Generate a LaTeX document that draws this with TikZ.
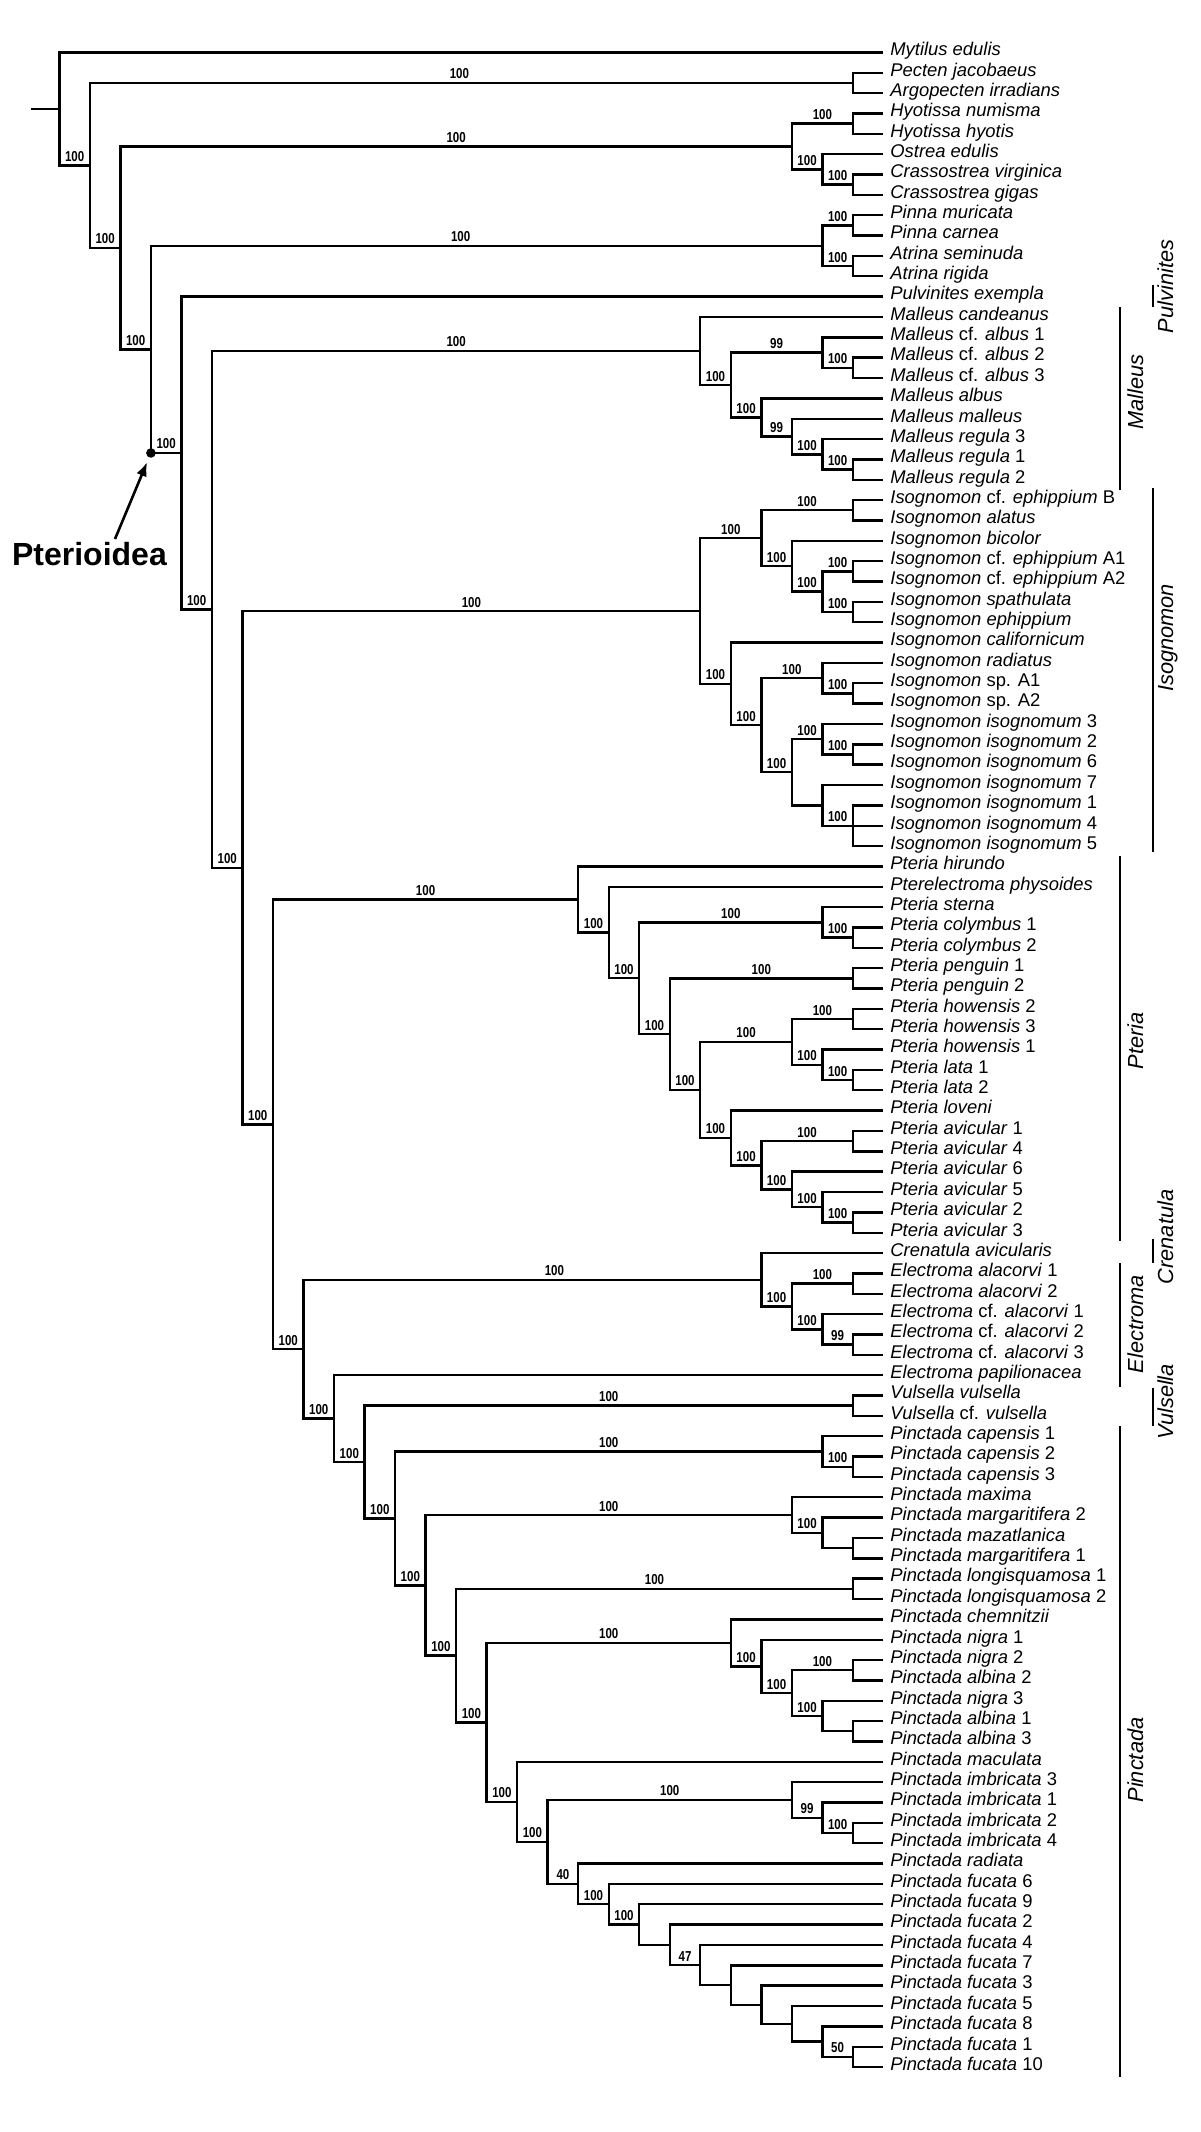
\documentclass[tikz,border=0pt]{standalone}
\usepackage{fontspec}
\setmainfont{Liberation Sans}
\newfontfamily\supfont[FakeStretch=0.8]{Liberation Sans}
\usetikzlibrary{calc,arrows.meta}
\tikzset{
 tree/.style={line width=1.2pt, line join=miter},
 leaflab/.style={anchor=base west, inner sep=0pt, font=\fontsize{9.2pt}{10pt}\selectfont},
 suplab/.style={anchor=base, inner sep=0pt, font=\supfont\bfseries\fontsize{7.2pt}{8pt}\selectfont},
 cladelab/.style={anchor=base, inner sep=0pt, rotate=90, font=\itshape\fontsize{10.9pt}{12pt}\selectfont},
 cladebar/.style={line width=1.3pt},
}
\newcommand{\lf}[2]{%
  \coordinate (L#1) at (441.7pt,{-26.2pt-(#1-1)*10.175pt});
  \node[leaflab] (T#1) at (445pt,{-27.85pt-(#1-1)*10.175pt}) {#2};}
\newcommand{\br}[4]{%
  \coordinate (tmpa) at ($(#3)!0.5!(#4)$);
  \coordinate (tmpb) at ({441.7pt-#2*15.26pt},0pt);
  \coordinate (#1) at (tmpb |- tmpa);
  \draw[tree] (#3) -| (#1) |- (#4);}
\newcommand{\bs}[4][0pt]{\node[suplab, xshift=#1, yshift=2pt] (s#3) at ($(#2 |- #3)!0.5!(#3)$) {#4};}
\begin{document}
\begin{tikzpicture}
\fill[white] (0pt,0pt) rectangle (600pt,-1066pt);
\useasboundingbox (0pt,0pt) rectangle (600pt,-1066pt);
% leaves
\lf{1}{\textit{Mytilus edulis}}
\lf{2}{\textit{Pecten jacobaeus}}
\lf{3}{\textit{Argopecten irradians}}
\lf{4}{\textit{Hyotissa numisma}}
\lf{5}{\textit{Hyotissa hyotis}}
\lf{6}{\textit{Ostrea edulis}}
\lf{7}{\textit{Crassostrea virginica}}
\lf{8}{\textit{Crassostrea gigas}}
\lf{9}{\textit{Pinna muricata}}
\lf{10}{\textit{Pinna carnea}}
\lf{11}{\textit{Atrina seminuda}}
\lf{12}{\textit{Atrina rigida}}
\lf{13}{\textit{Pulvinites exempla}}
\lf{14}{\textit{Malleus candeanus}}
\lf{15}{\textit{Malleus} cf. \textit{albus} 1}
\lf{16}{\textit{Malleus} cf. \textit{albus} 2}
\lf{17}{\textit{Malleus} cf. \textit{albus} 3}
\lf{18}{\textit{Malleus albus}}
\lf{19}{\textit{Malleus malleus}}
\lf{20}{\textit{Malleus regula} 3}
\lf{21}{\textit{Malleus regula} 1}
\lf{22}{\textit{Malleus regula} 2}
\lf{23}{\textit{Isognomon} cf. \textit{ephippium} B}
\lf{24}{\textit{Isognomon alatus}}
\lf{25}{\textit{Isognomon bicolor}}
\lf{26}{\textit{Isognomon} cf. \textit{ephippium} A1}
\lf{27}{\textit{Isognomon} cf. \textit{ephippium} A2}
\lf{28}{\textit{Isognomon spathulata}}
\lf{29}{\textit{Isognomon ephippium}}
\lf{30}{\textit{Isognomon californicum}}
\lf{31}{\textit{Isognomon radiatus}}
\lf{32}{\textit{Isognomon} sp. A1}
\lf{33}{\textit{Isognomon} sp. A2}
\lf{34}{\textit{Isognomon isognomum} 3}
\lf{35}{\textit{Isognomon isognomum} 2}
\lf{36}{\textit{Isognomon isognomum} 6}
\lf{37}{\textit{Isognomon isognomum} 7}
\lf{38}{\textit{Isognomon isognomum} 1}
\lf{39}{\textit{Isognomon isognomum} 4}
\lf{40}{\textit{Isognomon isognomum} 5}
\lf{41}{\textit{Pteria hirundo}}
\lf{42}{\textit{Pterelectroma physoides}}
\lf{43}{\textit{Pteria sterna}}
\lf{44}{\textit{Pteria colymbus} 1}
\lf{45}{\textit{Pteria colymbus} 2}
\lf{46}{\textit{Pteria penguin} 1}
\lf{47}{\textit{Pteria penguin} 2}
\lf{48}{\textit{Pteria howensis} 2}
\lf{49}{\textit{Pteria howensis} 3}
\lf{50}{\textit{Pteria howensis} 1}
\lf{51}{\textit{Pteria lata} 1}
\lf{52}{\textit{Pteria lata} 2}
\lf{53}{\textit{Pteria loveni}}
\lf{54}{\textit{Pteria avicular} 1}
\lf{55}{\textit{Pteria avicular} 4}
\lf{56}{\textit{Pteria avicular} 6}
\lf{57}{\textit{Pteria avicular} 5}
\lf{58}{\textit{Pteria avicular} 2}
\lf{59}{\textit{Pteria avicular} 3}
\lf{60}{\textit{Crenatula avicularis}}
\lf{61}{\textit{Electroma alacorvi} 1}
\lf{62}{\textit{Electroma alacorvi} 2}
\lf{63}{\textit{Electroma} cf. \textit{alacorvi} 1}
\lf{64}{\textit{Electroma} cf. \textit{alacorvi} 2}
\lf{65}{\textit{Electroma} cf. \textit{alacorvi} 3}
\lf{66}{\textit{Electroma papilionacea}}
\lf{67}{\textit{Vulsella vulsella}}
\lf{68}{\textit{Vulsella} cf. \textit{vulsella}}
\lf{69}{\textit{Pinctada capensis} 1}
\lf{70}{\textit{Pinctada capensis} 2}
\lf{71}{\textit{Pinctada capensis} 3}
\lf{72}{\textit{Pinctada maxima}}
\lf{73}{\textit{Pinctada margaritifera} 2}
\lf{74}{\textit{Pinctada mazatlanica}}
\lf{75}{\textit{Pinctada margaritifera} 1}
\lf{76}{\textit{Pinctada longisquamosa} 1}
\lf{77}{\textit{Pinctada longisquamosa} 2}
\lf{78}{\textit{Pinctada chemnitzii}}
\lf{79}{\textit{Pinctada nigra} 1}
\lf{80}{\textit{Pinctada nigra} 2}
\lf{81}{\textit{Pinctada albina} 2}
\lf{82}{\textit{Pinctada nigra} 3}
\lf{83}{\textit{Pinctada albina} 1}
\lf{84}{\textit{Pinctada albina} 3}
\lf{85}{\textit{Pinctada maculata}}
\lf{86}{\textit{Pinctada imbricata} 3}
\lf{87}{\textit{Pinctada imbricata} 1}
\lf{88}{\textit{Pinctada imbricata} 2}
\lf{89}{\textit{Pinctada imbricata} 4}
\lf{90}{\textit{Pinctada radiata}}
\lf{91}{\textit{Pinctada fucata} 6}
\lf{92}{\textit{Pinctada fucata} 9}
\lf{93}{\textit{Pinctada fucata} 2}
\lf{94}{\textit{Pinctada fucata} 4}
\lf{95}{\textit{Pinctada fucata} 7}
\lf{96}{\textit{Pinctada fucata} 3}
\lf{97}{\textit{Pinctada fucata} 5}
\lf{98}{\textit{Pinctada fucata} 8}
\lf{99}{\textit{Pinctada fucata} 1}
\lf{100}{\textit{Pinctada fucata} 10}
% outgroups
\br{nP1}{1}{L2}{L3}
\br{nHy}{1}{L4}{L5}
\br{nCr}{1}{L7}{L8}
\br{nOstC}{2}{L6}{nCr}
\br{nOy}{3}{nHy}{nOstC}
\br{nPin}{1}{L9}{L10}
\br{nAtr}{1}{L11}{L12}
\br{nPinn}{2}{nPin}{nAtr}
% Malleus
\br{ncf23}{1}{L16}{L17}
\br{ncfal}{2}{L15}{ncf23}
\br{nr12}{1}{L21}{L22}
\br{nMe}{2}{L20}{nr12}
\br{nMd}{3}{L19}{nMe}
\br{nMc}{4}{L18}{nMd}
\br{nMb}{5}{ncfal}{nMc}
\br{nMr}{6}{L14}{nMb}
% Isognomon
\br{neB}{1}{L23}{L24}
\br{nA12}{1}{L26}{L27}
\br{nspe}{1}{L28}{L29}
\br{nI1c}{2}{nA12}{nspe}
\br{nI1b}{3}{L25}{nI1c}
\br{nI1}{4}{neB}{nI1b}
\br{nspA}{1}{L32}{L33}
\br{nI2c}{2}{L31}{nspA}
\br{ni26}{1}{L35}{L36}
\br{nI2e}{2}{L34}{ni26}
\br{ni145}{1}{L38}{L40}
\draw[tree] (ni145 |- L39) -- (L39);
\br{nI2f}{2}{L37}{ni145}
\br{nI2d}{3}{nI2e}{nI2f}
\br{nI2b}{4}{nI2c}{nI2d}
\br{nI2}{5}{L30}{nI2b}
\br{nIr}{6}{nI1}{nI2}
% Pteria
\br{ncol}{1}{L44}{L45}
\br{nster}{2}{L43}{ncol}
\br{npeng}{1}{L46}{L47}
\br{nh23}{1}{L48}{L49}
\br{nlat}{1}{L51}{L52}
\br{nh1l}{2}{L50}{nlat}
\br{nhowc}{3}{nh23}{nh1l}
\br{na14}{1}{L54}{L55}
\br{na23}{1}{L58}{L59}
\br{nPt9}{2}{L57}{na23}
\br{nPt8}{3}{L56}{nPt9}
\br{nPt7}{4}{na14}{nPt8}
\br{nPt6}{5}{L53}{nPt7}
\br{nPt5}{6}{nhowc}{nPt6}
\br{nPt4}{7}{npeng}{nPt5}
\br{nPt3}{8}{nster}{nPt4}
\br{nPt2}{9}{L42}{nPt3}
\br{nPtr}{10}{L41}{nPt2}
% Crenatula + Electroma
\br{nal12}{1}{L61}{L62}
\br{ncf23e}{1}{L64}{L65}
\br{nCE3}{2}{L63}{ncf23e}
\br{nCE2}{3}{nal12}{nCE3}
\br{nCEr}{4}{L60}{nCE2}
\br{nVul}{1}{L67}{L68}
% Pinctada
\br{ncap23}{1}{L70}{L71}
\br{ncap}{2}{L69}{ncap23}
\br{nmm}{1}{L74}{L75}
\br{nmm2}{2}{L73}{nmm}
\br{nmax}{3}{L72}{nmm2}
\br{nlsq}{1}{L76}{L77}
\br{nalb}{1}{L83}{L84}
\br{nCh4}{2}{L82}{nalb}
\br{nna2}{1}{L80}{L81}
\br{nCh3}{3}{nna2}{nCh4}
\br{nCh2}{4}{L79}{nCh3}
\br{nChr}{5}{L78}{nCh2}
\br{ni24}{1}{L88}{L89}
\br{nim1}{2}{L87}{ni24}
\br{nimr}{3}{L86}{nim1}
\br{nZ3}{1}{L99}{L100}
\br{nZ2}{2}{L98}{nZ3}
\br{nZ}{3}{L97}{nZ2}
\br{nY}{4}{L96}{nZ}
\br{nX}{5}{L95}{nY}
\br{nW}{6}{L94}{nX}
\br{nV}{7}{L93}{nW}
\br{nU}{8}{L92}{nV}
\br{nT}{9}{L91}{nU}
\br{nS}{10}{L90}{nT}
\br{nR}{11}{nimr}{nS}
\br{nQ}{12}{L85}{nR}
\br{nP}{13}{nChr}{nQ}
\br{nN}{14}{nlsq}{nP}
\br{nM}{15}{nmax}{nN}
\br{nL}{16}{ncap}{nM}
\br{nK}{17}{nVul}{nL}
\br{nJ}{18}{L66}{nK}
\br{nI}{19}{nCEr}{nJ}
\br{nH}{20}{nPtr}{nI}
\br{nG}{21}{nIr}{nH}
\br{nF}{22}{nMr}{nG}
\br{nE}{23}{L13}{nF}
\br{nD}{24}{nPinn}{nE}
\br{nC}{25}{nOy}{nD}
\br{nB}{26}{nP1}{nC}
\br{nA}{27}{L1}{nB}
\coordinate (root) at (15.3pt,0pt);
\draw[tree] (root |- nA) -- (nA);
% support values
\bs{nA}{nB}{100}
\bs[-6pt]{nB}{nP1}{100}
\bs{nB}{nC}{100}
\bs{nC}{nOy}{100}
\bs{nOy}{nHy}{100}
\bs{nOy}{nOstC}{100}
\bs{nOstC}{nCr}{100}
\bs{nC}{nD}{100}
\bs[-13pt]{nD}{nPinn}{100}
\bs{nPinn}{nPin}{100}
\bs{nPinn}{nAtr}{100}
\bs{nD}{nE}{100}
\bs{nE}{nF}{100}
\bs{nF}{nMr}{100}
\bs{nMr}{nMb}{100}
\bs{nMb}{ncfal}{99}
\bs{ncfal}{ncf23}{100}
\bs{nMb}{nMc}{100}
\bs{nMc}{nMd}{99}
\bs{nMd}{nMe}{100}
\bs{nMe}{nr12}{100}
\bs{nF}{nG}{100}
\bs{nG}{nIr}{100}
\bs{nIr}{nI1}{100}
\bs{nI1}{neB}{100}
\bs{nI1}{nI1b}{100}
\bs{nI1b}{nI1c}{100}
\bs{nI1c}{nA12}{100}
\bs{nI1c}{nspe}{100}
\bs{nIr}{nI2}{100}
\bs{nI2}{nI2b}{100}
\bs{nI2b}{nI2c}{100}
\bs{nI2c}{nspA}{100}
\bs{nI2b}{nI2d}{100}
\bs{nI2d}{nI2e}{100}
\bs{nI2e}{ni26}{100}
\bs{nI2f}{ni145}{100}
\bs{nG}{nH}{100}
\bs{nH}{nPtr}{100}
\bs{nPtr}{nPt2}{100}
\bs{nPt2}{nPt3}{100}
\bs{nPt3}{nster}{100}
\bs{nster}{ncol}{100}
\bs{nPt3}{nPt4}{100}
\bs{nPt4}{npeng}{100}
\bs{nPt4}{nPt5}{100}
\bs{nPt5}{nhowc}{100}
\bs{nhowc}{nh23}{100}
\bs{nhowc}{nh1l}{100}
\bs{nh1l}{nlat}{100}
\bs{nPt5}{nPt6}{100}
\bs{nPt6}{nPt7}{100}
\bs{nPt7}{na14}{100}
\bs{nPt7}{nPt8}{100}
\bs{nPt8}{nPt9}{100}
\bs{nPt9}{na23}{100}
\bs{nH}{nI}{100}
\bs[11pt]{nI}{nCEr}{100}
\bs{nCEr}{nCE2}{100}
\bs{nCE2}{nal12}{100}
\bs{nCE2}{nCE3}{100}
\bs{nCE3}{ncf23e}{99}
\bs{nI}{nJ}{100}
\bs{nJ}{nK}{100}
\bs{nK}{nVul}{100}
\bs{nK}{nL}{100}
\bs{nL}{ncap}{100}
\bs{ncap}{ncap23}{100}
\bs{nL}{nM}{100}
\bs{nM}{nmax}{100}
\bs{nmax}{nmm2}{100}
\bs{nM}{nN}{100}
\bs{nN}{nlsq}{100}
\bs{nN}{nP}{100}
\bs{nP}{nChr}{100}
\bs{nChr}{nCh2}{100}
\bs{nCh2}{nCh3}{100}
\bs{nCh3}{nna2}{100}
\bs{nCh3}{nCh4}{100}
\bs{nP}{nQ}{100}
\bs{nQ}{nR}{100}
\bs{nR}{nimr}{100}
\bs{nimr}{nim1}{99}
\bs{nim1}{ni24}{100}
\bs{nR}{nS}{40}
\bs{nS}{nT}{100}
\bs{nT}{nU}{100}
\bs{nV}{nW}{47}
\bs{nZ2}{nZ3}{50}
% Pterioidea marker
\node[circle, fill=black, inner sep=0pt, minimum size=4.8pt] (dot) at (nD |- nE) {};
\node[anchor=base west, inner sep=0pt, font=\bfseries\fontsize{16pt}{18pt}\selectfont] (ptlab) at (5.85pt,-282.7pt) {Pterioidea};
\coordinate (astart) at (57.5pt,-269.5pt);
\draw[line width=1.3pt, -{Latex[length=7pt,width=5.5pt]}, shorten >=5pt] (astart) -- (dot.center);
% clade bars
\coordinate (bl) at (560pt,0pt);
\coordinate (br) at (576.5pt,0pt);
\draw[cladebar] ($(br |- L13)+(0,6pt)$) -- ($(br |- L13)+(0,-5pt)$);
\draw[cladebar] ($(bl |- L14)+(0,5pt)$) -- ($(bl |- L22)+(0,-5pt)$);
\draw[cladebar] ($(br |- L23)+(0,6pt)$) -- ($(br |- L40)+(0,-3pt)$);
\draw[cladebar] ($(bl |- L41)+(0,5pt)$) -- ($(bl |- L59)+(0,-4pt)$);
\draw[cladebar] ($(br |- L60)+(0,7pt)$) -- ($(br |- L60)+(0,-5pt)$);
\draw[cladebar] ($(bl |- L61)+(0,5pt)$) -- ($(bl |- L66)+(0,-6pt)$);
\draw[cladebar] ($(br |- L67)+(0,4pt)$) -- ($(br |- L68)+(0,-5pt)$);
\draw[cladebar] ($(bl |- L69)+(0,5pt)$) -- ($(bl |- L100)+(0,-5pt)$);
% clade labels
\node[cladelab] (cPul) at (586.5pt,-143.25pt) {Pulvinites};
\node[cladelab] (cMal) at (571.5pt,-196pt) {Malleus};
\node[cladelab] (cIso) at (586.5pt,-319pt) {Isognomon};
\node[cladelab] (cPte) at (571.5pt,-520.5pt) {Pteria};
\node[cladelab] (cCre) at (586.5pt,-618.5pt) {Crenatula};
\node[cladelab] (cEle) at (571.5pt,-662pt) {Electroma};
\node[cladelab] (cVul) at (586.5pt,-701pt) {Vulsella};
\node[cladelab] (cPin) at (571.5pt,-880pt) {Pinctada};
\end{tikzpicture}
\end{document}
